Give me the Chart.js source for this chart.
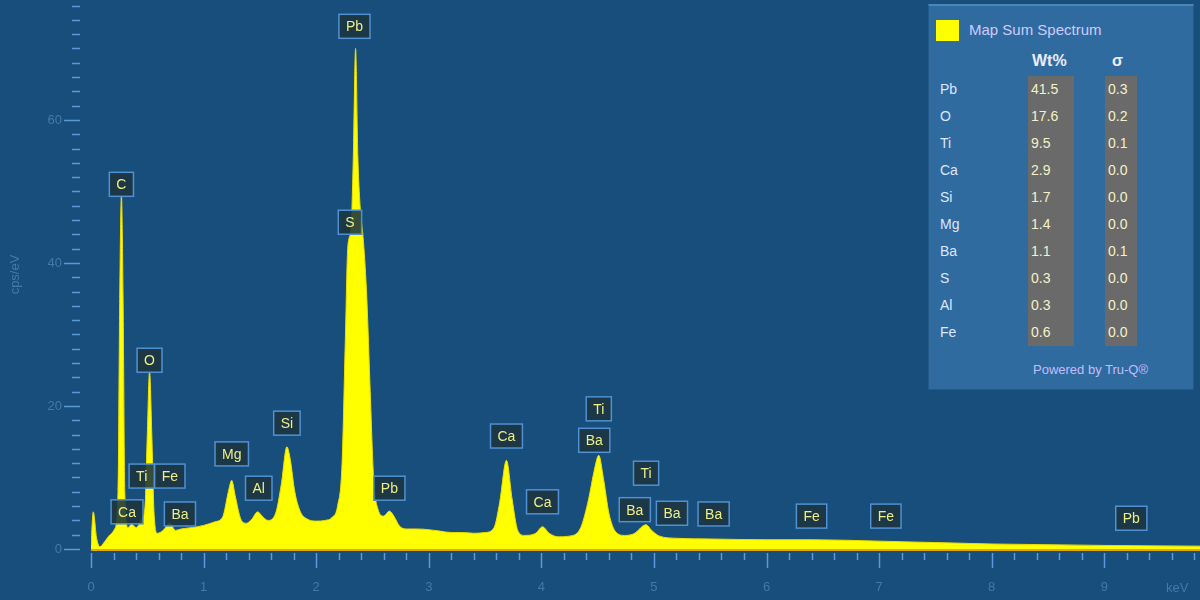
<!DOCTYPE html>
<html>
<head>
<meta charset="utf-8">
<script src="https://cdn.jsdelivr.net/npm/chart.js@4/dist/chart.umd.min.js"></script>
<style>
  body { margin: 0; background: #184e7c; font-family: "Liberation Sans", Arial, sans-serif; }
  #wrap { position: relative; width: 1200px; height: 600px; }
  #legend { position: absolute; left: 928px; top: 4px; width: 266px; height: 386px;
            background: #306b9f; border: 1px solid #245a8a; border-top: 2px solid #4a86b8; box-sizing: border-box; }
  #legend .sw { position: absolute; left: 7px; top: 14px; width: 23px; height: 21px; background: #ffff00; }
  #legend .ttl { position: absolute; left: 40px; top: 15px; font-size: 15px; color: #cfcaff; }
  #legend .hd { position: absolute; top: 46px; font-size: 16px; font-weight: bold; color: #ecebff; }
  #legend .row { position: absolute; left: 0; width: 100%; height: 27px; line-height: 27px; font-size: 14px; }
  #legend .el { position: absolute; left: 11px; color: #dbe6ff; }
  #legend .wt, #legend .sg { position: absolute; background: #6a6a6a; color: #f4f2c8; padding: 0 3px; }
  #legend .wt { left: 99px; width: 40px; }
  #legend .sg { left: 176px; width: 26px; }
  #legend .pw { position: absolute; left: 104px; top: 356px; font-size: 13px; color: #c3bcff; }
</style>
</head>
<body>
<div id="wrap">
  <canvas id="chart" width="1200" height="600"></canvas>
  <div id="legend">
    <div class="sw"></div>
    <div class="ttl">Map Sum Spectrum</div>
    <div class="hd" style="left:103px">Wt%</div>
    <div class="hd" style="left:183px">σ</div>
    <div class="pw">Powered by Tru-Q®</div>
  </div>
</div>
<script>
// spectrum, keV vs cps/eV
const energy = [0.00, 0.02, 0.05, 0.08, 0.12, 0.17, 0.21, 0.24, 0.255, 0.27, 0.285, 0.30, 0.33, 0.36, 0.40, 0.45, 0.48, 0.50, 0.52, 0.54, 0.56, 0.59, 0.64, 0.70, 0.75, 0.80, 0.90, 1.00, 1.10, 1.17, 1.22, 1.25, 1.28, 1.33, 1.38, 1.43, 1.48, 1.52, 1.57, 1.64, 1.69, 1.74, 1.77, 1.81, 1.86, 1.92, 2.00, 2.08, 2.14, 2.19, 2.23, 2.26, 2.28, 2.31, 2.33, 2.35, 2.37, 2.39, 2.42, 2.45, 2.48, 2.51, 2.55, 2.60, 2.65, 2.69, 2.74, 2.80, 2.90, 3.00, 3.10, 3.20, 3.30, 3.40, 3.50, 3.58, 3.63, 3.69, 3.74, 3.79, 3.85, 3.95, 4.01, 4.07, 4.15, 4.25, 4.35, 4.42, 4.47, 4.51, 4.55, 4.60, 4.66, 4.74, 4.83, 4.90, 4.93, 4.98, 5.05, 5.20, 5.50, 6.00, 6.40, 7.00, 7.50, 8.00, 8.50, 9.00, 9.85];
const counts = [0.5, 5.2, 1.5, 0.3, 1.0, 2.0, 2.8, 8, 35, 49.5, 35, 8, 3.0, 3.5, 3.0, 4.2, 6, 16, 24.8, 16, 5, 2.2, 2.6, 3.6, 2.6, 2.8, 3.0, 3.3, 3.8, 4.5, 8, 9.6, 7.5, 4.2, 3.6, 4.2, 5.2, 4.6, 4.0, 5.0, 9, 14.3, 12.5, 8, 5.2, 4.2, 3.9, 4.0, 4.4, 6, 12, 30, 42, 45, 55, 70, 55, 48, 43, 35, 22, 10, 5.5, 4.6, 5.3, 4.6, 3.2, 2.8, 2.8, 2.7, 2.5, 2.3, 2.3, 2.2, 2.3, 3.0, 6.5, 12.4, 7, 2.6, 1.9, 2.2, 3.1, 2.2, 1.7, 1.8, 3, 7, 11, 13.1, 10, 5, 2.4, 1.9, 2.2, 3.2, 3.4, 2.6, 1.8, 1.5, 1.4, 1.3, 1.3, 1.1, 0.9, 0.7, 0.6, 0.5, 0.4];

// peak markers
const peakNames  = ['Pb', 'C', 'S', 'O', 'Si', 'Ca', 'Ti', 'Ba', 'Mg', 'Ti', 'Fe', 'Al', 'Pb', 'Ti', 'Ca', 'Ba', 'Ca', 'Ba', 'Ba', 'Ba', 'Fe', 'Fe', 'Pb'];
const peakEnergy = [2.34, 0.27, 2.30, 0.52, 1.74, 3.69, 4.51, 4.47, 1.25, 0.45, 0.70, 1.49, 2.65, 4.93, 0.32, 0.79, 4.01, 4.83, 5.16, 5.53, 6.40, 7.06, 9.24];
const peakHeight = [73.1, 51.0, 45.7, 26.4, 17.6, 15.8, 19.6, 15.2, 13.3, 10.2, 10.2, 8.5, 8.5, 10.6, 5.2, 4.9, 6.6, 5.5, 5.0, 4.9, 4.6, 4.6, 4.3];

// quantification table
const elements  = ['Pb', 'O', 'Ti', 'Ca', 'Si', 'Mg', 'Ba', 'S', 'Al', 'Fe'];
const wtPercent = ['41.5', '17.6', '9.5', '2.9', '1.7', '1.4', '1.1', '0.3', '0.3', '0.6'];
const sigma     = ['0.3', '0.2', '0.1', '0.0', '0.0', '0.0', '0.1', '0.0', '0.0', '0.0'];

const legend = document.getElementById('legend');
for (let i = 0; i < elements.length; i++) {
  let row = document.createElement('div');
  row.className = 'row';
  row.style.top = (70 + i * 27) + 'px';
  row.innerHTML = '<span class="el">' + elements[i] + '</span><span class="wt">' + wtPercent[i] +
                  '</span><span class="sg">' + sigma[i] + '</span>';
  legend.appendChild(row);
}

const tickBlue = '#5b9ad6';
const labelBlue = '#4279ab';

const spectrumDecor = {
  id: 'spectrumDecor',
  beforeDraw(chart) {
    const ctx = chart.ctx;
    ctx.save();
    ctx.fillStyle = '#184e7c';
    ctx.fillRect(0, 0, chart.width, chart.height);
    ctx.restore();
  },
  afterDatasetsDraw(chart) {
    const ctx = chart.ctx;
    const x = chart.scales.x, y = chart.scales.y;
    const area = chart.chartArea;
    ctx.save();
    // baseline
    ctx.strokeStyle = '#e0a800';
    ctx.lineWidth = 2;
    ctx.beginPath();
    ctx.moveTo(area.left, y.getPixelForValue(0) + 1);
    ctx.lineTo(area.right, y.getPixelForValue(0) + 1);
    ctx.stroke();

    // tick marks
    ctx.strokeStyle = tickBlue;
    ctx.lineWidth = 1.5;
    for (let k = 0; k <= 98; k += 2) {
      let v = k / 10;
      if (v > x.max) break;
      let px = Math.round(x.getPixelForValue(v)) + 0.5;
      let major = k % 10 === 0;
      ctx.beginPath();
      ctx.moveTo(px, area.bottom + 4);
      ctx.lineTo(px, area.bottom + (major ? 19 : 11));
      ctx.stroke();
    }
    for (let v = 0; v <= y.max; v += 2) {
      let py = Math.round(y.getPixelForValue(v)) + 0.5;
      let major = v % 20 === 0;
      ctx.beginPath();
      ctx.moveTo(major ? 64 : 72, py);
      ctx.lineTo(80, py);
      ctx.stroke();
    }

    // keV unit
    ctx.fillStyle = labelBlue;
    ctx.font = '13px "Liberation Sans", Arial, sans-serif';
    ctx.textAlign = 'left';
    ctx.textBaseline = 'middle';
    ctx.fillText('keV', 1166, 588);

    // peak marker boxes
    ctx.font = '14px "Liberation Sans", Arial, sans-serif';
    ctx.textAlign = 'center';
    for (let i = 0; i < peakNames.length; i++) {
      let px = x.getPixelForValue(peakEnergy[i]);
      let py = y.getPixelForValue(peakHeight[i]);
      let w = ctx.measureText(peakNames[i]).width + 14;
      let h = 24;
      ctx.fillStyle = 'rgba(28,52,62,0.88)';
      ctx.fillRect(px - w / 2, py - h / 2, w, h);
      ctx.strokeStyle = '#4f91d2';
      ctx.lineWidth = 1.5;
      ctx.strokeRect(px - w / 2, py - h / 2, w, h);
      ctx.fillStyle = '#eeee88';
      ctx.fillText(peakNames[i], px, py + 1);
    }
    ctx.restore();
  }
};

new Chart('chart', {
  type: 'line',
  data: {
    datasets: [{
      label: 'Map Sum Spectrum',
      data: energy.map((e, i) => ({ x: e, y: counts[i] })),
      backgroundColor: '#ffff00',
      borderColor: '#eedd00',
      borderWidth: 1,
      fill: 'origin',
      pointRadius: 0,
      cubicInterpolationMode: 'monotone'
    }]
  },
  options: {
    responsive: false,
    animation: false,
    layout: { padding: 0 },
    plugins: { legend: { display: false }, tooltip: { enabled: false } },
    scales: {
      x: {
        type: 'linear',
        min: 0,
        max: 9.85,
        afterFit: (s) => { s.height = 51; s.paddingLeft = 0; s.paddingRight = 0; },
        grid: { display: false, drawTicks: false },
        border: { display: false },
        ticks: {
          stepSize: 1,
          includeBounds: false,
          padding: 31,
          color: labelBlue,
          font: { size: 13, family: '"Liberation Sans", Arial, sans-serif' },
          maxRotation: 0
        }
      },
      y: {
        min: 0,
        max: 76.78,
        afterFit: (s) => { s.width = 91; s.paddingTop = 0; s.paddingBottom = 0; },
        grid: { display: false, drawTicks: false },
        border: { display: false },
        title: {
          display: true,
          text: 'cps/eV',
          color: labelBlue,
          font: { size: 13, family: '"Liberation Sans", Arial, sans-serif' },
          padding: { top: 8, bottom: 0 }
        },
        ticks: {
          stepSize: 20,
          includeBounds: false,
          padding: 29,
          color: labelBlue,
          font: { size: 13, family: '"Liberation Sans", Arial, sans-serif' }
        }
      }
    }
  },
  plugins: [spectrumDecor]
});
</script>
</body>
</html>
